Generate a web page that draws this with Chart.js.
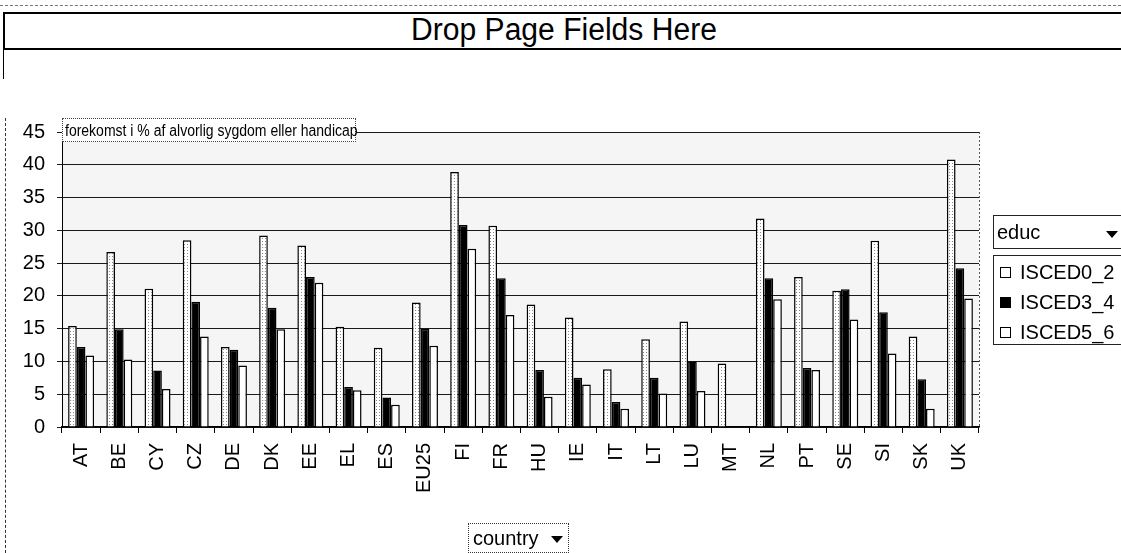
<!DOCTYPE html>
<html>
<head>
<meta charset="utf-8">
<title>forekomst i % af alvorlig sygdom eller handicap</title>
<script src="https://cdn.jsdelivr.net/npm/chart.js@4.4.0/dist/chart.umd.min.js"></script>
<style>
  * { margin: 0; padding: 0; box-sizing: border-box; }
  body { width: 1121px; height: 553px; overflow: hidden; background: #fff; font-family: 'Liberation Sans', Arial, sans-serif; color: #000; position: relative; }
  #chart { position: absolute; left: 0; top: 0; }
  .abs { position: absolute; }
  .drop-box { left: 3px; top: 12px; width: 1140px; height: 38px; border: 2.5px solid #000; }
  .drop-text { left: 0; top: 12px; width: 1128px; text-align: center; font-size: 31px; line-height: 36px; transform: scaleX(0.97); }
  .left-line { left: 3px; top: 49px; width: 0; height: 30px; border-left: 1.5px solid #000; }
  .left-dash { left: 5px; top: 118px; width: 0; height: 435px; border-left: 1px dashed #333; }
  .top-dash { left: 0; top: 5px; width: 1121px; height: 0; border-top: 1px dashed #777; }
  .ytitle { left: 62px; top: 118px; width: 294px; height: 24px; border: 1px dotted #444; background: #fff; }
  .ytitle span { position: absolute; left: 2px; top: 2px; font-size: 16px; line-height: 19px; white-space: nowrap; transform: scaleX(0.875); transform-origin: left center; }
  .educ { left: 993px; top: 215px; width: 135px; height: 34px; border: 1px solid #222; font-size: 20px; line-height: 32px; padding-left: 3px; }
  .arrow { width: 0; height: 0; border-left: 6px solid transparent; border-right: 6px solid transparent; border-top: 7px solid #000; }
  .items { left: 993px; top: 255px; width: 135px; height: 90px; border: 1px solid #222; }
  .item { position: absolute; left: 6px; font-size: 20px; line-height: 24px; white-space: nowrap; }
  .item i { display: inline-block; width: 11px; height: 11px; border: 1.5px solid #000; margin-right: 9px; vertical-align: 1px; }
  .country { left: 468px; top: 523px; width: 101px; height: 30px; border: 1px dotted #333; font-size: 20px; line-height: 28px; padding-left: 4px; }
</style>
</head>
<body>
<div class="abs top-dash"></div>
<div class="abs drop-box"></div>
<div class="abs drop-text">Drop Page Fields Here</div>
<div class="abs left-line"></div>
<div class="abs left-dash"></div>
<canvas id="chart" width="1121" height="553"></canvas>
<div class="abs ytitle"><span>forekomst i % af alvorlig sygdom eller handicap</span></div>
<div class="abs educ">educ<div class="abs arrow" style="left:112px; top:15px;"></div></div>
<div class="abs items" id="legend"></div>
<div class="abs country">country<div class="abs arrow" style="left:82px; top:12px;"></div></div>

<script>
const countries = ['AT','BE','CY','CZ','DE','DK','EE','EL','ES','EU25','FI','FR','HU','IE','IT','LT','LU','MT','NL','PT','SE','SI','SK','UK'];
const seriesNames = ['ISCED0_2', 'ISCED3_4', 'ISCED5_6'];
const isced0_2 = [15.4, 26.7, 21.1, 28.5, 12.2, 29.2, 27.7, 15.3, 12.1, 19.0, 38.9, 30.7, 18.7, 16.7, 8.8, 13.4, 16.1, 9.7, 31.8, 22.9, 20.8, 28.4, 13.8, 40.8];
const isced3_4 = [12.2, 14.9, 8.6, 19.1, 11.8, 18.2, 22.9, 6.1, 4.5, 15.0, 30.8, 22.7, 8.7, 7.5, 3.8, 7.5, 10.0, null, 22.7, 9.0, 21.0, 17.5, 7.3, 24.2];
const isced5_6 = [10.9, 10.3, 5.8, 13.8, 9.4, 14.9, 22.0, 5.6, 3.4, 12.4, 27.2, 17.1, 4.6, 6.5, 2.8, 5.1, 5.5, null, 19.5, 8.7, 16.4, 11.2, 2.8, 19.6];
const yTicks = [0, 5, 10, 15, 20, 25, 30, 35, 40, 45];

// stippled fill like the scanned first series
const pc = document.createElement('canvas');
pc.width = 3; pc.height = 3;
const pctx = pc.getContext('2d');
pctx.fillStyle = '#fff'; pctx.fillRect(0, 0, 3, 3);
pctx.fillStyle = '#888'; pctx.fillRect(1, 1, 1, 1);
const stipple = document.getElementById('chart').getContext('2d').createPattern(pc, 'repeat');

const fills = [stipple, '#000', '#fff'];

// html legend
const legend = document.getElementById('legend');
seriesNames.forEach((name, i) => {
  const d = document.createElement('div');
  d.className = 'item';
  d.style.top = (4 + i * 30) + 'px';
  d.innerHTML = '<i style="background:' + (i === 1 ? '#000' : '#fff') + '"></i>' + name;
  legend.appendChild(d);
});

const plotBg = {
  id: 'plotBg',
  beforeDraw(chart) {
    const { ctx, chartArea: a } = chart;
    ctx.save();
    ctx.fillStyle = '#f5f5f5';
    ctx.fillRect(a.left, a.top, a.right - a.left, a.bottom - a.top);
    ctx.restore();
  },
  afterDraw(chart) {
    const { ctx, chartArea: a } = chart;
    ctx.save();
    ctx.strokeStyle = '#555';
    ctx.lineWidth = 1;
    ctx.setLineDash([2, 2]);
    ctx.beginPath();
    ctx.moveTo(a.right + 0.5, a.top);
    ctx.lineTo(a.right + 0.5, a.bottom);
    ctx.stroke();
    ctx.restore();
  }
};

const font = { family: "'Liberation Sans', Arial, sans-serif", size: 20 };

new Chart(document.getElementById('chart'), {
  type: 'bar',
  data: {
    labels: countries,
    datasets: [isced0_2, isced3_4, isced5_6].map((data, i) => ({
      label: seriesNames[i],
      data: data,
      backgroundColor: fills[i],
      borderColor: '#000',
      borderWidth: 1.5,
      categoryPercentage: 0.68,
      barPercentage: 1.0
    }))
  },
  options: {
    responsive: false,
    animation: false,
    layout: { padding: { top: 132, right: 142, left: 0, bottom: 0 } },
    plugins: { legend: { display: false }, tooltip: { enabled: false } },
    scales: {
      x: {
        afterFit: s => { s.height = 126; },
        grid: { display: true, offset: true, drawOnChartArea: false, drawTicks: true, tickLength: 6, color: '#000', lineWidth: 1 },
        border: { color: '#000', width: 1.5 },
        ticks: { color: '#000', font: font, minRotation: 90, maxRotation: 90, autoSkip: false, padding: 10 }
      },
      y: {
        min: 0,
        max: 45,
        afterFit: s => { s.width = 62; },
        afterBuildTicks: s => { s.ticks = yTicks.map(v => ({ value: v })); },
        grid: { color: '#1a1a1a', lineWidth: 1, tickLength: 5 },
        border: { color: '#000', width: 1 },
        ticks: { color: '#000', font: font, padding: 12 }
      }
    }
  },
  plugins: [plotBg]
});
</script>
</body>
</html>
